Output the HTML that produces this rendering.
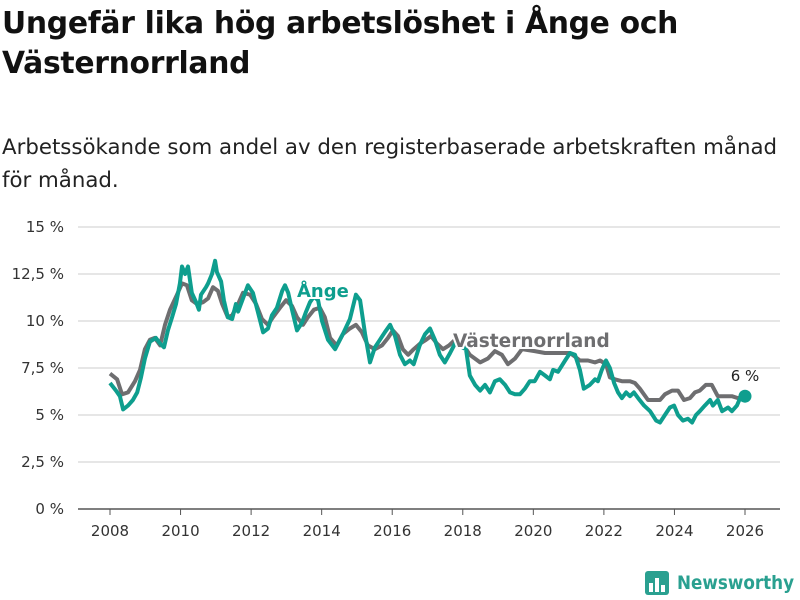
<!DOCTYPE html>
<html><head><meta charset="utf-8"><style>
body{margin:0;width:800px;height:600px;background:#fff;font-family:"Liberation Sans","DejaVu Sans",sans-serif;overflow:hidden;position:relative}
h1{position:absolute;left:2px;top:4px;margin:0;font-size:29.8px;line-height:40px;font-weight:bold;color:#111;font-family:"DejaVu Sans",sans-serif;letter-spacing:-0.3px}
.sub{position:absolute;left:2px;top:131px;font-size:21.3px;line-height:33px;color:#222;font-family:"DejaVu Sans",sans-serif}
svg{position:absolute;left:0;top:0}
</style></head><body>
<h1>Ungefär lika hög arbetslöshet i Ånge och<br>Västernorrland</h1>
<div class="sub">Arbetssökande som andel av den registerbaserade arbetskraften månad<br>för månad.</div>
<svg id="chart" width="800" height="600"></svg>
<script>
const yTicks=[0,2.5,5,7.5,10,12.5,15];
const yTickLabels=["0 %","2,5 %","5 %","7,5 %","10 %","12,5 %","15 %"];
const xTicks=[2008,2010,2012,2014,2016,2018,2020,2022,2024,2026];
const angeYears=[2008.00,2008.17,2008.28,2008.37,2008.51,2008.65,2008.77,2008.88,2008.99,2009.13,2009.30,2009.42,2009.53,2009.64,2009.76,2009.87,2009.98,2010.04,2010.13,2010.21,2010.32,2010.44,2010.52,2010.58,2010.72,2010.78,2010.89,2010.98,2011.03,2011.15,2011.23,2011.34,2011.46,2011.57,2011.63,2011.77,2011.91,2012.05,2012.19,2012.34,2012.48,2012.59,2012.73,2012.88,2012.96,2013.05,2013.16,2013.30,2013.44,2013.56,2013.67,2013.78,2013.90,2014.01,2014.18,2014.38,2014.60,2014.80,2014.97,2015.09,2015.23,2015.37,2015.51,2015.65,2015.79,2015.94,2016.08,2016.22,2016.36,2016.50,2016.61,2016.78,2016.93,2017.07,2017.21,2017.35,2017.49,2017.64,2017.78,2018.09,2018.20,2018.35,2018.49,2018.63,2018.77,2018.91,2019.05,2019.20,2019.34,2019.48,2019.62,2019.76,2019.90,2020.04,2020.19,2020.33,2020.47,2020.56,2020.70,2020.90,2021.04,2021.18,2021.32,2021.43,2021.60,2021.75,2021.83,2021.94,2022.06,2022.17,2022.29,2022.40,2022.51,2022.63,2022.74,2022.85,2022.97,2023.14,2023.31,2023.48,2023.59,2023.73,2023.87,2023.99,2024.10,2024.24,2024.38,2024.50,2024.61,2024.72,2024.86,2025.01,2025.09,2025.23,2025.35,2025.52,2025.63,2025.77,2025.86,2026.00];
const angeValues=[6.7,6.3,6.0,5.3,5.5,5.8,6.2,7.0,8.0,8.9,9.1,8.8,8.6,9.5,10.2,10.9,12.0,12.9,12.5,12.9,11.5,11.0,10.6,11.4,11.8,12.0,12.5,13.2,12.6,12.1,11.1,10.2,10.1,10.9,10.5,11.2,11.9,11.5,10.5,9.4,9.6,10.3,10.7,11.6,11.9,11.5,10.6,9.5,9.9,10.5,11.0,11.3,11.1,10.0,9.0,8.5,9.3,10.1,11.4,11.1,9.3,7.8,8.6,9.0,9.4,9.8,9.2,8.2,7.7,7.9,7.7,8.7,9.3,9.6,9.0,8.2,7.8,8.3,8.8,8.5,7.1,6.6,6.3,6.6,6.2,6.8,6.9,6.6,6.2,6.1,6.1,6.4,6.8,6.8,7.3,7.1,6.9,7.4,7.3,7.9,8.3,8.2,7.4,6.4,6.6,6.9,6.8,7.4,7.9,7.5,6.7,6.2,5.9,6.2,6.0,6.2,5.9,5.5,5.2,4.7,4.6,5.0,5.4,5.5,5.0,4.7,4.8,4.6,5.0,5.2,5.5,5.8,5.5,5.8,5.2,5.4,5.2,5.5,5.9,6.0];
const vnYears=[2008.00,2008.20,2008.34,2008.51,2008.71,2008.85,2008.99,2009.13,2009.27,2009.42,2009.56,2009.70,2009.90,2010.04,2010.18,2010.32,2010.47,2010.64,2010.78,2010.92,2011.06,2011.18,2011.34,2011.46,2011.63,2011.77,2011.97,2012.14,2012.31,2012.48,2012.62,2012.82,2012.99,2013.16,2013.30,2013.47,2013.61,2013.78,2013.95,2014.09,2014.24,2014.43,2014.60,2014.80,2014.97,2015.14,2015.31,2015.51,2015.71,2015.88,2016.02,2016.16,2016.30,2016.45,2016.61,2016.79,2016.96,2017.10,2017.27,2017.44,2017.61,2017.78,2018.06,2018.20,2018.49,2018.71,2018.91,2019.11,2019.28,2019.48,2019.68,2020.04,2020.33,2020.76,2021.04,2021.18,2021.32,2021.55,2021.75,2021.89,2022.06,2022.17,2022.31,2022.51,2022.74,2022.88,2023.02,2023.25,2023.45,2023.59,2023.73,2023.93,2024.10,2024.27,2024.44,2024.58,2024.72,2024.89,2025.06,2025.23,2025.43,2025.63,2025.80,2026.00];
const vnValues=[7.2,6.9,6.1,6.2,6.8,7.4,8.5,9.0,9.1,8.7,9.8,10.6,11.4,12.0,11.9,11.1,10.9,11.0,11.2,11.8,11.6,10.9,10.2,10.3,10.9,11.5,11.4,10.9,10.1,9.8,10.2,10.7,11.1,10.8,10.2,9.8,10.2,10.6,10.7,10.2,9.1,8.7,9.3,9.6,9.8,9.4,8.7,8.5,8.7,9.1,9.5,9.2,8.5,8.2,8.5,8.8,9.0,9.2,8.8,8.5,8.7,9.0,8.6,8.2,7.8,8.0,8.4,8.2,7.7,8.0,8.5,8.4,8.3,8.3,8.3,8.1,7.9,7.9,7.8,7.9,7.7,7.0,6.9,6.8,6.8,6.7,6.4,5.8,5.8,5.8,6.1,6.3,6.3,5.8,5.9,6.2,6.3,6.6,6.6,6.0,6.0,6.0,5.9,6.0];

const NS='http://www.w3.org/2000/svg';
const svg=document.getElementById('chart');
const x=v=>110+(v-2008)*(635/18);
const y=v=>509-v*18.8;
function mk(tag,attrs,parent){const e=document.createElementNS(NS,tag);for(const k in attrs)e.setAttribute(k,attrs[k]);(parent||svg).appendChild(e);return e;}

yTicks.forEach((t,i)=>{
  const g=mk('line',{x1:78,x2:780,y1:y(t),y2:y(t),stroke:t===0?'#555':'#ddd','stroke-width':1.5});
  
  
  const tx=mk('text',{x:64,y:y(t)+5,'text-anchor':'end','font-size':15,fill:'#333','font-family':'DejaVu Sans, sans-serif'});
  tx.textContent=yTickLabels[i];
  
  
});
xTicks.forEach(t=>{
  const l=mk('line',{x1:x(t),x2:x(t),y1:509,y2:515,stroke:'#555','stroke-width':1});
  
  
  const tx=mk('text',{x:x(t),y:536,'text-anchor':'middle','font-size':15,fill:'#333','font-family':'DejaVu Sans, sans-serif'});
  tx.textContent=t;
  
  
});
function path(xs,vs){return xs.map((t,i)=>(i?'L':'M')+x(t).toFixed(1)+','+y(vs[i]).toFixed(1)).join('');}
const vn=mk('path',{d:path(vnYears,vnValues),fill:'none',stroke:'#6e6e70','stroke-width':4,'stroke-linejoin':'round'});


const an=mk('path',{d:path(angeYears,angeValues),fill:'none',stroke:'#0e9e8e','stroke-width':4,'stroke-linejoin':'round'});


const lastI=angeYears.length-1;
const dot=mk('circle',{cx:x(angeYears[lastI]),cy:y(angeValues[lastI]),r:6.5,fill:'#0e9e8e'});


const vl=mk('text',{x:x(angeYears[lastI]),y:y(angeValues[lastI])-15,'text-anchor':'middle','font-size':15,fill:'#222','font-family':'DejaVu Sans, sans-serif'});
vl.textContent=Math.round(angeValues[lastI])+' %';


const la=mk('text',{x:297,y:297,'font-size':18,'font-weight':'bold',fill:'#0e9e8e',stroke:'#fff','stroke-width':4,'paint-order':'stroke','font-family':'DejaVu Sans, sans-serif'});
la.textContent='Ånge';


const lv=mk('text',{x:453,y:347,'font-size':18.5,'font-weight':'bold',fill:'#6e6e70',stroke:'#fff','stroke-width':4,'paint-order':'stroke','font-family':'DejaVu Sans, sans-serif'});
lv.textContent='Västernorrland';


const lg=mk('g',{});


mk('rect',{x:645,y:571,width:24,height:24,rx:3,fill:'#2aa090'},lg);
[[649,583,4,9],[655,578,4,14],[661,585,4,7]].forEach(r=>mk('rect',{x:r[0],y:r[1],width:r[2],height:r[3],fill:'#fff'},lg));
const lt=mk('text',{x:677,y:589,'font-size':19,'font-weight':'bold',fill:'#2aa090','font-family':'DejaVu Sans, sans-serif',textLength:117,lengthAdjust:'spacingAndGlyphs'},lg);
lt.textContent='Newsworthy';
</script>
</body></html>
